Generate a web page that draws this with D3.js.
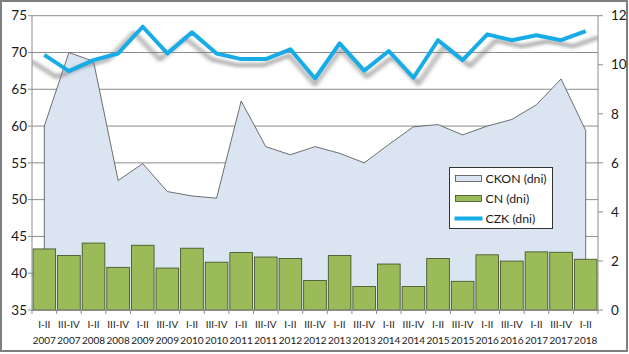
<!DOCTYPE html>
<html>
<head>
<meta charset="utf-8">
<script src="https://cdn.jsdelivr.net/npm/d3@7"></script>
<style>
  body { margin: 0; background: #fff; }
  svg { display: block; font-family: Lato, "Open Sans", sans-serif; }
</style>
</head>
<body>
<svg id="chart" width="629" height="354"></svg>
<script>
// half-year periods and years (x axis)
const periods = ["I-II", "III-IV", "I-II", "III-IV", "I-II", "III-IV", "I-II", "III-IV", "I-II", "III-IV", "I-II", "III-IV",
  "I-II", "III-IV", "I-II", "III-IV", "I-II", "III-IV", "I-II", "III-IV", "I-II", "III-IV", "I-II"];
const years = ["2007", "2007", "2008", "2008", "2009", "2009", "2010", "2010", "2011", "2011", "2012", "2012",
  "2013", "2013", "2014", "2014", "2015", "2015", "2016", "2016", "2017", "2017", "2018"];

// CKON (dni) - area, left axis
const ckon = [60.0, 70.0, 68.8, 52.6, 54.9, 51.1, 50.5, 50.2, 63.4, 57.2, 56.1, 57.2,
  56.3, 55.0, 57.5, 59.9, 60.2, 58.8, 60.0, 60.9, 62.9, 66.4, 59.4];
// CN (dni) - bars, left axis
const cn = [43.3, 42.4, 44.1, 40.8, 43.8, 40.7, 43.4, 41.5, 42.8, 42.2, 42.0, 39.0,
  42.4, 38.2, 41.25, 38.2, 42.0, 38.9, 42.5, 41.65, 42.9, 42.85, 41.9];
// CZK (dni) - line, right axis
const czk = [10.4, 9.74, 10.19, 10.46, 11.55, 10.46, 11.32, 10.46, 10.23, 10.23, 10.63, 9.44,
  10.87, 9.76, 10.56, 9.47, 11.0, 10.19, 11.24, 11.0, 11.2, 11.0, 11.37];

const leftTicks = [35, 40, 45, 50, 55, 60, 65, 70, 75];
const rightTicks = [0, 2, 4, 6, 8, 10, 12];
const legendNames = ["CKON (dni)", "CN (dni)", "CZK (dni)"];

const idx = d3.range(periods.length);
const plot = { left: 32, right: 598, top: 15.7, bottom: 310 };

const svg = d3.select("#chart");

// outer frame
svg.append("rect")
  .attr("x", 1).attr("y", 1).attr("width", 626).attr("height", 350)
  .attr("fill", "#fff").attr("stroke", "#7f7f7f").attr("stroke-width", 2);

const x = d3.scaleBand().domain(idx).range([plot.left, plot.right])
  .paddingInner(0.08).paddingOuter(0.04);
const cx = i => x(i) + x.bandwidth() / 2;
const yL = d3.scaleLinear().domain([35, 75]).range([plot.bottom, plot.top]);
const yR = d3.scaleLinear().domain([0, 12]).range([plot.bottom, plot.top]);

const defs = svg.append("defs");
defs.append("clipPath").attr("id", "plotclip")
  .append("rect").attr("x", plot.left).attr("y", plot.top - 10)
  .attr("width", plot.right - plot.left).attr("height", plot.bottom - plot.top + 10);
defs.append("filter").attr("id", "blur")
  .attr("x", "-10%").attr("y", "-50%").attr("width", "120%").attr("height", "200%")
  .append("feGaussianBlur").attr("stdDeviation", 1.8);

// gridlines (left axis)
svg.append("g").selectAll("line").data(leftTicks).join("line")
  .attr("x1", plot.left - 4).attr("x2", plot.right)
  .attr("y1", d => yL(d)).attr("y2", d => yL(d))
  .attr("stroke", "#8c8c8c").attr("stroke-width", 1);

// CKON area
const area = d3.area().x((d, i) => cx(i)).y0(yL(35)).y1(d => yL(d));
svg.append("path").datum(ckon)
  .attr("d", area)
  .attr("fill", "#dbe5f1");
svg.append("path").datum(ckon)
  .attr("d", d3.line().x((d, i) => cx(i)).y(d => yL(d))(ckon) +
    `M${cx(0)},${yL(ckon[0])}L${cx(0)},${yL(35)}M${cx(ckon.length - 1)},${yL(ckon[ckon.length - 1])}L${cx(ckon.length - 1)},${yL(35)}`)
  .attr("fill", "none").attr("stroke", "#4d4d4d").attr("stroke-width", 0.8);

// CN bars
svg.append("g").selectAll("rect").data(cn).join("rect")
  .attr("x", (d, i) => x(i))
  .attr("width", x.bandwidth())
  .attr("y", d => yL(d))
  .attr("height", d => yL(35) - yL(d))
  .attr("fill", "#9bbb59").attr("stroke", "#3d4a24").attr("stroke-width", 0.8);

// axes lines
svg.append("line").attr("x1", plot.left).attr("x2", plot.left)
  .attr("y1", plot.top).attr("y2", plot.bottom).attr("stroke", "#8c8c8c");
svg.append("line").attr("x1", plot.right).attr("x2", plot.right)
  .attr("y1", plot.top).attr("y2", plot.bottom).attr("stroke", "#8c8c8c");
svg.append("line").attr("x1", plot.left).attr("x2", plot.right)
  .attr("y1", plot.bottom).attr("y2", plot.bottom).attr("stroke", "#8c8c8c");

// x tick marks at category boundaries
const step = x.step();
svg.append("g").selectAll("line").data(d3.range(periods.length + 1)).join("line")
  .attr("x1", d => plot.left + d * step).attr("x2", d => plot.left + d * step)
  .attr("y1", plot.bottom).attr("y2", plot.bottom + 4)
  .attr("stroke", "#8c8c8c");

// right tick marks
svg.append("g").selectAll("line").data(rightTicks).join("line")
  .attr("x1", plot.right).attr("x2", plot.right + 5)
  .attr("y1", d => yR(d)).attr("y2", d => yR(d))
  .attr("stroke", "#8c8c8c");

// CZK line with shadow
const czkLine = d3.line().x((d, i) => cx(i)).y(d => yR(d));
const midX = (plot.left + plot.right) / 2;
svg.append("g").attr("clip-path", "url(#plotclip)")
  .append("path").datum(czk)
  .attr("d", czkLine)
  .attr("transform", `translate(${midX},6) scale(1.05,1) translate(${-midX},0)`)
  .attr("fill", "none").attr("stroke", "#7a7a7a").attr("stroke-opacity", 0.55)
  .attr("stroke-width", 4.5).attr("stroke-linejoin", "round")
  .attr("filter", "url(#blur)");
svg.append("path").datum(czk)
  .attr("d", czkLine)
  .attr("fill", "none").attr("stroke", "#17ace6").attr("stroke-width", 4)
  .attr("stroke-linejoin", "round");

// left labels
svg.append("g").selectAll("text").data(leftTicks).join("text")
  .attr("x", 27).attr("y", d => yL(d)).attr("dy", "0.35em")
  .attr("text-anchor", "end").attr("font-size", 13.5).attr("fill", "#1a1a1a")
  .text(d => d);

// right labels
svg.append("g").selectAll("text").data(rightTicks).join("text")
  .attr("x", 611).attr("y", d => yR(d)).attr("dy", "0.35em")
  .attr("text-anchor", "start").attr("font-size", 13.5).attr("fill", "#1a1a1a")
  .text(d => d);

// x labels
const xl = svg.append("g").selectAll("text").data(idx).join("text")
  .attr("text-anchor", "middle").attr("font-size", 10).attr("fill", "#1a1a1a");
xl.append("tspan").attr("x", i => cx(i)).attr("y", 327.5).text(i => periods[i]);
xl.append("tspan").attr("x", i => cx(i)).attr("y", 343.5).text(i => years[i]);

// legend
const lg = svg.append("g").attr("transform", "translate(449.5,167.5)");
lg.append("rect").attr("width", 103).attr("height", 61)
  .attr("fill", "#fff").attr("stroke", "#333").attr("stroke-width", 1);
lg.append("rect").attr("x", 6).attr("y", 8).attr("width", 26).attr("height", 6)
  .attr("fill", "#dbe5f1").attr("stroke", "#4d4d4d").attr("stroke-width", 0.8);
lg.append("rect").attr("x", 6).attr("y", 28).attr("width", 26).attr("height", 6)
  .attr("fill", "#9bbb59").attr("stroke", "#3d4a24").attr("stroke-width", 0.8);
lg.append("line").attr("x1", 5).attr("x2", 33).attr("y1", 51).attr("y2", 51)
  .attr("stroke", "#17ace6").attr("stroke-width", 4);
lg.selectAll("text.lbl").data(legendNames).join("text")
  .attr("class", "lbl")
  .attr("x", 36).attr("y", (d, i) => 11.5 + i * 20).attr("dy", "0.35em")
  .attr("font-size", 12.3).attr("fill", "#1a1a1a")
  .text(d => d);
</script>
</body>
</html>
